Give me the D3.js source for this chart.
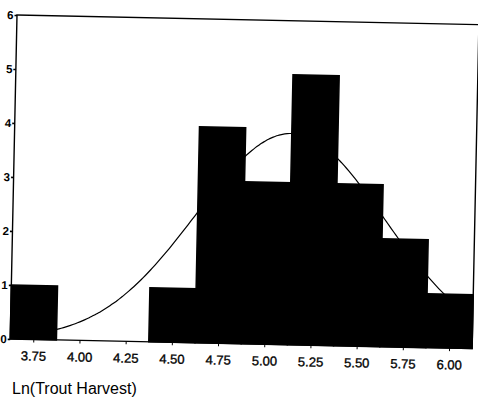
<!DOCTYPE html>
<html>
<head>
<meta charset="utf-8">
<script src="https://cdn.jsdelivr.net/npm/d3@7"></script>
<style>
  html, body { margin: 0; padding: 0; background: #fff; }
  svg { display: block; }
  text { font-family: "Liberation Sans", Arial, sans-serif; fill: #000; }
</style>
</head>
<body>
<svg id="chart" width="478" height="401"></svg>
<script>
// Histogram of log trout harvest, bin width 0.25, with a fitted normal curve
const binCenters = [3.75, 4.00, 4.25, 4.50, 4.75, 5.00, 5.25, 5.50, 5.75, 6.00];
const counts     = [1, 0, 0, 1, 4, 3, 5, 3, 2, 1];
const xTickValues = [3.75, 4.00, 4.25, 4.50, 4.75, 5.00, 5.25, 5.50, 5.75, 6.00];
const xTickLabels = ["3.75", "4.00", "4.25", "4.50", "4.75", "5.00", "5.25", "5.50", "5.75", "6.00"];
const yTickValues = [0, 1, 2, 3, 4, 5, 6];
const xLabel = "Ln(Trout Harvest)";
const binWidth = 0.25;

const svg = d3.select("#chart");

// plot frame (the printed page sits slightly tilted)
const plotLeft = 17, plotTop = 15, plotRight = 479, plotBottom = 339;
const g = svg.append("g").attr("transform", `rotate(1.2, ${plotLeft}, ${plotTop})`);

const x = d3.scaleLinear().domain([3.625, 6.125]).range([plotLeft, plotRight]);
const y = d3.scaleLinear().domain([0, 6]).range([plotBottom, plotTop]);

// normal curve from the binned data
const n = d3.sum(counts);
const mean = d3.sum(binCenters, (c, i) => c * counts[i]) / n;
const sd = Math.sqrt(d3.sum(binCenters, (c, i) => counts[i] * (c - mean) ** 2) / (n - 1));
const density = v => n * binWidth * Math.exp(-0.5 * ((v - mean) / sd) ** 2) / (sd * Math.sqrt(2 * Math.PI));
const curveXs = d3.range(0, 201).map(i => 3.625 + i * (2.5 / 200));

g.append("path")
  .datum(curveXs)
  .attr("fill", "none")
  .attr("stroke", "#000")
  .attr("stroke-width", 1.2)
  .attr("d", d3.line().x(v => x(v)).y(v => y(density(v))).curve(d3.curveBasis));

// bars (same-colour stroke so neighbouring bars merge)
g.selectAll("rect.bar")
  .data(binCenters.map((c, i) => ({ c, v: counts[i] })).filter(d => d.v > 0))
  .join("rect")
  .attr("class", "bar")
  .attr("x", d => x(d.c - binWidth / 2))
  .attr("width", d => x(d.c + binWidth / 2) - x(d.c - binWidth / 2))
  .attr("y", d => y(d.v))
  .attr("height", d => y(0) - y(d.v))
  .attr("fill", "#000")
  .attr("stroke", "#000")
  .attr("stroke-width", 1.5);

// frame
g.append("rect")
  .attr("x", plotLeft).attr("y", plotTop)
  .attr("width", plotRight - plotLeft).attr("height", plotBottom - plotTop)
  .attr("fill", "none").attr("stroke", "#000").attr("stroke-width", 1.4);

// y axis
const yAxis = g.append("g")
  .attr("transform", `translate(${plotLeft},0)`)
  .call(d3.axisLeft(y).tickValues(yTickValues).tickFormat(d3.format("d")).tickSize(2.5).tickPadding(1));
yAxis.select(".domain").remove();
yAxis.selectAll("line").attr("stroke-width", 1.6);
yAxis.selectAll("text")
  .style("font-size", "11.5px").style("font-weight", "bold")
  .attr("fill", "#000");

// x axis
const xAxis = g.append("g")
  .attr("transform", `translate(0,${plotBottom})`)
  .call(d3.axisBottom(x).tickValues(xTickValues).tickFormat((d, i) => xTickLabels[i]).tickSize(3).tickPadding(9));
xAxis.select(".domain").remove();
xAxis.selectAll("text")
  .style("font-size", "13px")
  .attr("fill", "#000")
  .attr("stroke", "#000").attr("stroke-width", 0.35);

// axis title
svg.append("text")
  .attr("x", 12).attr("y", 394)
  .style("font-size", "16px")
  .text(xLabel);
</script>
</body>
</html>
